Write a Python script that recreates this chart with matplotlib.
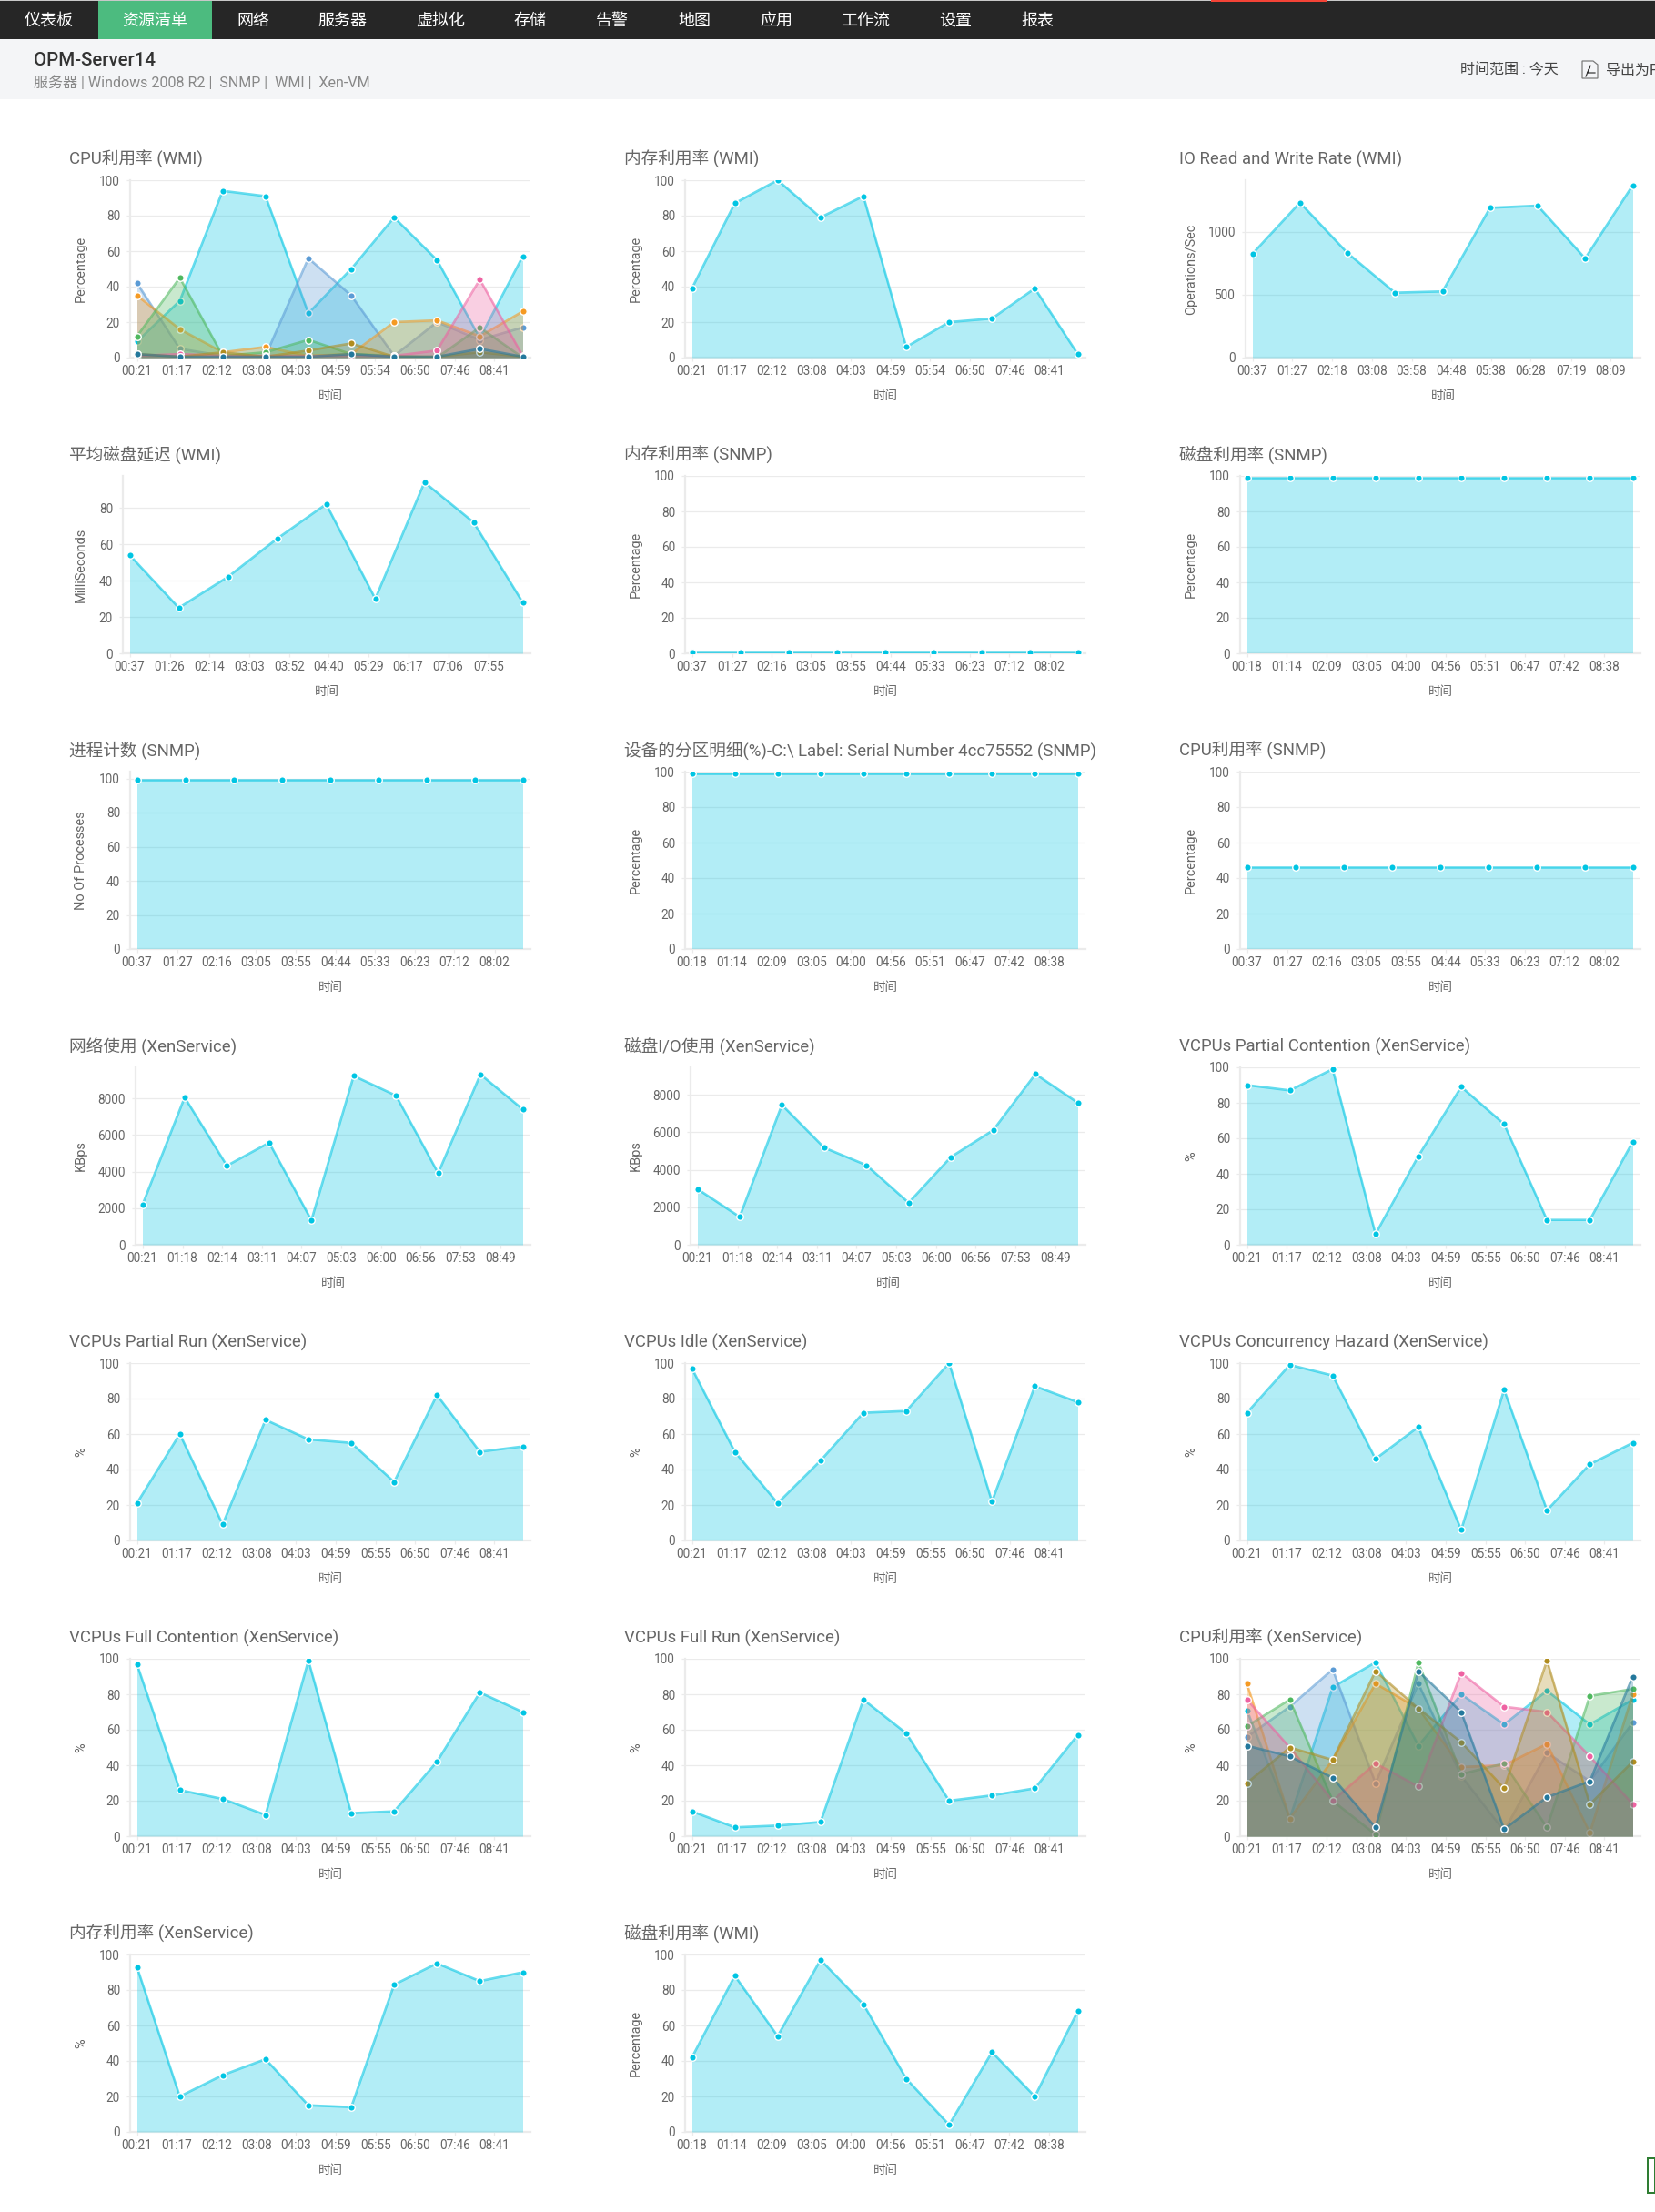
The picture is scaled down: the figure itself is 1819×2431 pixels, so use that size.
import matplotlib
matplotlib.use("Agg")
import matplotlib.pyplot as plt
from matplotlib.patches import Rectangle, Polygon
from matplotlib.lines import Line2D

W, H = 1819, 2431
FONT = ['Roboto', 'Noto Sans CJK SC', 'DejaVu Sans']
plt.rcParams['font.family'] = FONT

# ---------------- data ----------------
TICKS_A = ['00:21','01:17','02:12','03:08','04:03','04:59','05:54','06:50','07:46','08:41']
TICKS_B = ['00:37','01:27','02:18','03:08','03:58','04:48','05:38','06:28','07:19','08:09']
TICKS_C = ['00:37','01:26','02:14','03:03','03:52','04:40','05:29','06:17','07:06','07:55']
TICKS_D = ['00:37','01:27','02:16','03:05','03:55','04:44','05:33','06:23','07:12','08:02']
TICKS_E = ['00:18','01:14','02:09','03:05','04:00','04:56','05:51','06:47','07:42','08:38']
TICKS_F = ['00:21','01:18','02:14','03:11','04:07','05:03','06:00','06:56','07:53','08:49']
TICKS_G = ['00:21','01:17','02:12','03:08','04:03','04:59','05:55','06:50','07:46','08:41']

PCT = [0, 20, 40, 60, 80, 100]

CPU_WMI_CYAN   = [9, 32, 94, 91, 25, 50, 79, 55, 11, 57]
CPU_WMI_BLUE   = [42, 5, 1, 1, 56, 35, 1, 20, 10, 17]
CPU_WMI_ORANGE = [35, 16, 3, 6, 1, 2, 20, 21, 12, 26]
CPU_WMI_GREEN  = [12, 45, 1, 3, 10, 2, 1, 0, 17, 0]
CPU_WMI_PINK   = [1, 2, 1, 1, 1, 1, 1, 4, 44, 1]
CPU_WMI_GOLD   = [2, 0.5, 3, 0.5, 4, 8, 0.5, 0.5, 3, 0.5]
CPU_WMI_TEAL   = [2, 0.5, 0.5, 0.5, 0.5, 2, 0.5, 0.5, 5, 0.5]

MEM_WMI = [39, 87, 100, 79, 91, 6, 20, 22, 39, 2]
IO_WMI = [826, 1234, 833, 517, 527, 1193, 1210, 790, 1372]
LATENCY_WMI = [54, 25, 42, 63, 82, 30, 94, 72, 28]
MEM_SNMP = [0.5, 0.5, 0.5, 0.5, 0.5, 0.5, 0.5, 0.5, 0.5]
DISK_SNMP = [99, 99, 99, 99, 99, 99, 99, 99, 99, 99]
PROC_SNMP = [99, 99, 99, 99, 99, 99, 99, 99, 99]
PART_SNMP = [99, 99, 99, 99, 99, 99, 99, 99, 99, 99]
CPU_SNMP = [46, 46, 46, 46, 46, 46, 46, 46, 46]
NET_XEN = [2173, 8060, 4325, 5584, 1340, 9240, 8162, 3919, 9320, 7411]
DISKIO_XEN = [2978, 1489, 7464, 5181, 4248, 2243, 4685, 6114, 9112, 7583]
PARTIAL_CONT = [90, 87, 99, 6, 50, 89, 68, 14, 14, 58]
PARTIAL_RUN = [21, 60, 9, 68, 57, 55, 33, 82, 50, 53]
IDLE = [97, 50, 21, 45, 72, 73, 100, 22, 87, 78]
CONC_HAZARD = [72, 99, 93, 46, 64, 6, 85, 17, 43, 55]
FULL_CONT = [97, 26, 21, 12, 99, 13, 14, 42, 81, 70]
FULL_RUN = [14, 5, 6, 8, 77, 58, 20, 23, 27, 57]
MEM_XEN = [93, 20, 32, 41, 15, 14, 83, 95, 85, 90]
DISK_WMI = [42, 88, 54, 97, 72, 30, 4, 45, 20, 68]

CPU_XEN_CYAN   = [71, 10, 84, 98, 51, 80, 63, 82, 63, 77]
CPU_XEN_BLUE   = [56, 73, 94, 30, 86, 34, 3, 47, 31, 64]
CPU_XEN_ORANGE = [86, 10, 43, 86, 72, 39, 40, 52, 2, 80]
CPU_XEN_GREEN  = [62, 77, 20, 1, 98, 35, 41, 5, 79, 83]
CPU_XEN_PINK   = [77, 50, 20, 41, 28, 92, 73, 70, 45, 18]
CPU_XEN_GOLD   = [30, 50, 43, 93, 72, 53, 27, 99, 18, 42]
CPU_XEN_TEAL   = [51, 45, 33, 5, 93, 70, 4, 22, 31, 90]

NAV_ITEMS = ['仪表板', '资源清单', '网络', '服务器', '虚拟化', '存储', '告警', '地图', '应用', '工作流', '设置', '报表']
NAV_X = [54, 170, 278, 376, 484, 582, 673, 763, 853, 951, 1050, 1140]

C_CYAN, C_BLUE, C_ORANGE, C_GREEN, C_PINK, C_GOLD, C_TEAL = (
    '#00c5e3', '#5b9bd5', '#f59a23', '#4fb85f', '#ee62a2', '#b08d20', '#24789c')
ORDER = [C_CYAN, C_BLUE, C_ORANGE, C_GREEN, C_PINK, C_GOLD, C_TEAL]

# (row, col, title, y label, tick labels, y ticks, y max, series)
CHARTS = [
    (0, 0, 'CPU利用率 (WMI)', 'Percentage', TICKS_A, PCT, 100,
     [CPU_WMI_CYAN, CPU_WMI_BLUE, CPU_WMI_ORANGE, CPU_WMI_GREEN, CPU_WMI_PINK, CPU_WMI_GOLD, CPU_WMI_TEAL]),
    (0, 1, '内存利用率 (WMI)', 'Percentage', TICKS_A, PCT, 100, [MEM_WMI]),
    (0, 2, 'IO Read and Write Rate (WMI)', 'Operations/Sec', TICKS_B, [0, 500, 1000], 1413, [IO_WMI]),
    (1, 0, '平均磁盘延迟 (WMI)', 'MilliSeconds', TICKS_C, [0, 20, 40, 60, 80], 97.5, [LATENCY_WMI]),
    (1, 1, '内存利用率 (SNMP)', 'Percentage', TICKS_D, PCT, 100, [MEM_SNMP]),
    (1, 2, '磁盘利用率 (SNMP)', 'Percentage', TICKS_E, PCT, 100, [DISK_SNMP]),
    (2, 0, '进程计数 (SNMP)', 'No Of Processes', TICKS_D, PCT, 104, [PROC_SNMP]),
    (2, 1, '设备的分区明细(%)-C:\\ Label: Serial Number 4cc75552 (SNMP)', 'Percentage', TICKS_E, PCT, 100, [PART_SNMP]),
    (2, 2, 'CPU利用率 (SNMP)', 'Percentage', TICKS_D, PCT, 100, [CPU_SNMP]),
    (3, 0, '网络使用 (XenService)', 'KBps', TICKS_F, [0, 2000, 4000, 6000, 8000], 9706, [NET_XEN]),
    (3, 1, '磁盘I/O使用 (XenService)', 'KBps', TICKS_F, [0, 2000, 4000, 6000, 8000], 9469, [DISKIO_XEN]),
    (3, 2, 'VCPUs Partial Contention (XenService)', '%', TICKS_G, PCT, 100, [PARTIAL_CONT]),
    (4, 0, 'VCPUs Partial Run (XenService)', '%', TICKS_G, PCT, 100, [PARTIAL_RUN]),
    (4, 1, 'VCPUs Idle (XenService)', '%', TICKS_G, PCT, 100, [IDLE]),
    (4, 2, 'VCPUs Concurrency Hazard (XenService)', '%', TICKS_G, PCT, 100, [CONC_HAZARD]),
    (5, 0, 'VCPUs Full Contention (XenService)', '%', TICKS_G, PCT, 100, [FULL_CONT]),
    (5, 1, 'VCPUs Full Run (XenService)', '%', TICKS_G, PCT, 100, [FULL_RUN]),
    (5, 2, 'CPU利用率 (XenService)', '%', TICKS_G, PCT, 100,
     [CPU_XEN_CYAN, CPU_XEN_BLUE, CPU_XEN_ORANGE, CPU_XEN_GREEN, CPU_XEN_PINK, CPU_XEN_GOLD, CPU_XEN_TEAL]),
    (6, 0, '内存利用率 (XenService)', '%', TICKS_G, PCT, 100, [MEM_XEN]),
    (6, 1, '磁盘利用率 (WMI)', 'Percentage', TICKS_E, PCT, 100, [DISK_WMI]),
]

# ---------------- layout helpers ----------------
fig = plt.figure(figsize=(W / 100, H / 100), dpi=100, facecolor='white')
px = lambda p: p * 0.72  # pixels to points


def fx(x):
    return x / W


def fy(y):
    return 1 - y / H


def rect(x0, y0, x1, y1, **kw):
    fig.add_artist(Rectangle((fx(x0), fy(y1)), (x1 - x0) / W, (y1 - y0) / H,
                             transform=fig.transFigure, linewidth=kw.pop('lw', 0), **kw))


def minutes(s):
    h, m = s.split(':')
    return int(h) * 60 + int(m)


# ---------------- page chrome ----------------
rect(0, 0, W, 1, facecolor='#c8c8c8')
rect(0, 1, W, 43, facecolor='#262626')
rect(1331, 0, 1458, 1.5, facecolor='#f44336')
rect(108, 1, 233, 43, facecolor='#4cbb7f')
rect(0, 43, W, 109, facecolor='#f4f5f7')
for label, x in zip(NAV_ITEMS, NAV_X):
    fig.text(fx(x), fy(23), label, color='white', fontsize=px(18), ha='center', va='center')
fig.text(fx(37), fy(66), 'OPM-Server14', color='#333333', fontsize=px(20.5), fontweight='medium',
         ha='left', va='center')
fig.text(fx(37), fy(91.5), '服务器 | Windows 2008 R2 |  SNMP |  WMI |  Xen-VM', color='#888888',
         fontsize=px(16), ha='left', va='center')
fig.text(fx(1605), fy(77), '时间范围 : 今天', color='#444444', fontsize=px(16), ha='left', va='center')
fig.text(fx(1765), fy(77), '导出为PDF', color='#444444', fontsize=px(16), ha='left', va='center')
# export icon
fig.add_artist(Polygon([(fx(1739), fy(67)), (fx(1751), fy(67)), (fx(1756), fy(71)),
                        (fx(1756), fy(86)), (fx(1739), fy(86))], closed=True,
                       transform=fig.transFigure, facecolor='none', edgecolor='#777777', linewidth=px(1.2)))
fig.add_artist(Line2D([fx(1743), fx(1748), fx(1745), fx(1753)], [fy(84), fy(72), fy(80), fy(80)],
                      transform=fig.transFigure, color='#333333', linewidth=px(1.2)))
# corner widget at the page's lower right
rect(1811, 2372, 1819, 2410, facecolor='white', edgecolor='#2e7d32', lw=px(2))

# ---------------- charts ----------------
COL_OFFSET = [0, 610, 1220]
AXIS_LEFT = {2: 135, 3: 143, 4: 149}
GRID = '#ebebeb'
TXT = '#666666'

for row, col, title, ylabel, ticks, yticks, ymax, series in CHARTS:
    off = COL_OFFSET[col]
    digits = len(str(max(yticks)))
    l = AXIS_LEFT[digits] + off
    r = 583 + off
    t = 198 + 325 * row
    b = 393 + 325 * row
    p0 = l + 7.5
    p1 = r - 8.5
    n = len(series[0])
    t0 = minutes(ticks[0])
    times = [t0 + 60 * i for i in range(n)]
    per_px = 60 * (n - 1) / (p1 - p0)

    ax = fig.add_axes([fx(l), fy(b), (r - l) / W, (b - t) / H])
    ax.set_xlim(t0 - (p0 - l) * per_px, times[-1] + (r - p1) * per_px)
    ax.set_ylim(0, ymax)
    ax.set_axisbelow(True)
    ax.set_facecolor('none')
    ax.grid(axis='y', color=GRID, linewidth=px(1.3))
    for s in ('top', 'right'):
        ax.spines[s].set_visible(False)
    for s in ('left', 'bottom'):
        ax.spines[s].set_color(GRID)
        ax.spines[s].set_linewidth(px(2.2))
    ax.set_yticks(yticks)
    ax.set_xticks([minutes(s) for s in ticks])
    ax.set_xticklabels(ticks)
    ax.tick_params(axis='y', length=px(4), width=px(1.2), color=GRID, pad=px(7),
                   labelsize=px(13.5), labelcolor=TXT)
    ax.tick_params(axis='x', length=px(4), width=px(1.2), color=GRID, pad=px(4),
                   labelsize=px(13.5), labelcolor=TXT)

    # each series is one layer: area, line and markers; later layers veil earlier ones
    for k, (values, color) in enumerate(zip(series, ORDER)):
        z = 3 + k
        ax.fill_between(times, values, 0, color=color, alpha=0.3, linewidth=0, zorder=z)
        ax.plot(times, values, color=color, alpha=0.6, linewidth=px(2.6), zorder=z + 0.1,
                solid_joinstyle='miter')
        ax.plot(times, values, linestyle='none', marker='o', markersize=px(7.5), markerfacecolor=color,
                markeredgecolor='white', markeredgewidth=px(1.4), zorder=z + 0.2)

    ax.set_title(title, x=(75.5 + off - l) / (r - l), y=(b - (175 + 325 * row)) / (b - t), pad=0,
                 loc='left', ha='left', va='center', color=TXT, fontsize=px(18.7), family=FONT)
    ax.set_xlabel('时间', color=TXT, fontsize=px(13.5), va='center')
    ax.xaxis.set_label_coords(0.5, -42 / (b - t))
    ax.set_ylabel(ylabel, color=TXT, fontsize=px(14.5), va='center')
    ax.yaxis.set_label_coords((89 + off - l) / (r - l), 0.5)

fig.savefig('out.png', dpi=100, facecolor='white')
